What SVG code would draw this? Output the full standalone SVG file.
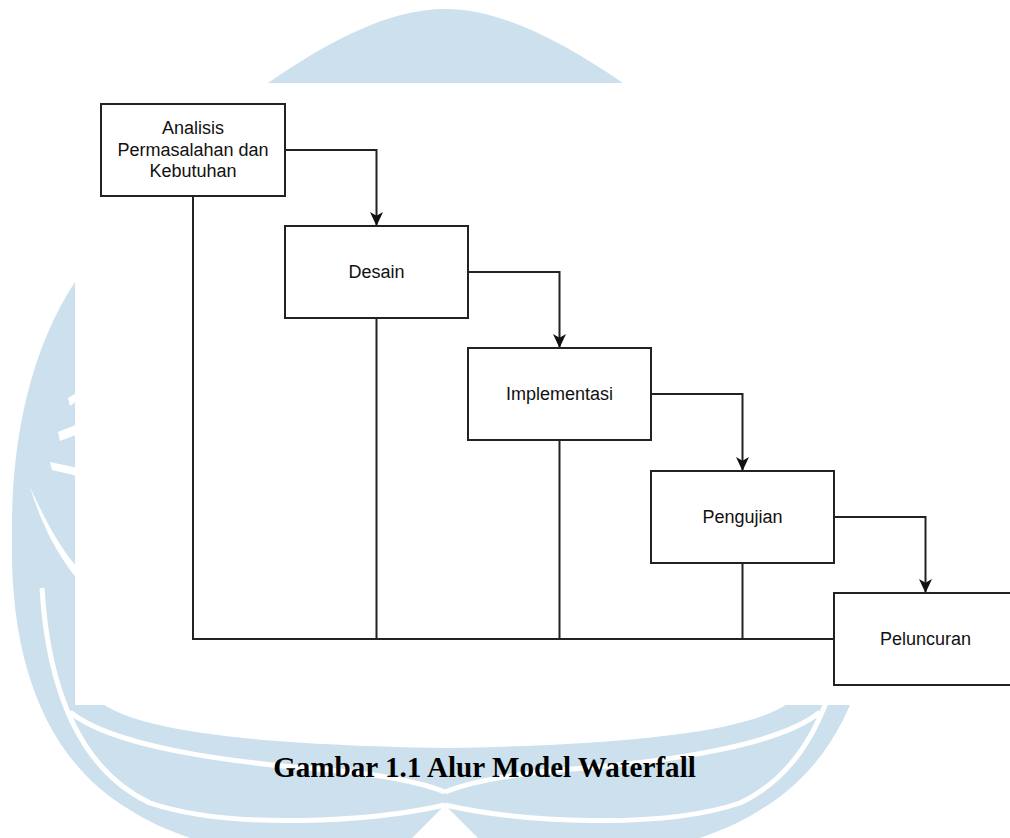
<svg xmlns="http://www.w3.org/2000/svg" width="1010" height="838" viewBox="0 0 1010 838">
  <style>
    .wm { fill: #cce0ed; }
    .wmgap { fill: none; stroke: #ffffff; stroke-width: 5; }
    .box { fill: #ffffff; stroke: #222222; stroke-width: 2; }
    .lbl { font-family: "Liberation Sans", Arial, sans-serif; font-size: 18px; fill: #111111; text-anchor: middle; }
    .conn { fill: none; stroke: #222222; stroke-width: 2; }
    .cap { font-family: "Liberation Serif", "Times New Roman", serif; font-weight: bold; font-size: 29.1px; fill: #000000; }
  </style>
  <defs>
    <marker id="arrow" viewBox="0 0 14 14" refX="14" refY="7" markerWidth="14" markerHeight="14" markerUnits="userSpaceOnUse" orient="auto">
      <path d="M0,0.5 L14,7 L0,13.5 L3.8,7 Z" fill="#111111"/>
    </marker>
    <g id="wing">
      <path class="wm" d="M95,255 C40,320 10,420 12,540 C10,660 45,760 130,810 C155,826 185,838 230,850 L400,850 L445,805 L445,600 L110,600 Z"/>
      <path fill="#ffffff" d="M30,487 C45,520 60,548 78,568 L78,580 C58,556 42,526 30,487 Z"/>
      <path fill="#ffffff" d="M68,398 L78,392 L78,400 L70,406 Z"/>
      <path fill="#ffffff" d="M58,432 L78,424 L78,434 L60,441 Z"/>
      <path fill="#ffffff" d="M50,462 L78,468 L78,476 L52,470 Z"/>
      <path class="wmgap" stroke-width="4.5" d="M42,588 C48,690 80,770 150,803 C230,830 370,822 445,805"/>
      <path class="wmgap" d="M70,712 C110,745 220,762 330,770 C385,775 420,782 445,792"/>
    </g>
  </defs>

  <rect x="0" y="0" width="1010" height="838" fill="#ffffff"/>

  <g id="watermark">
    <path class="wm" d="M268,83 C330,40 390,9 445,9 C500,9 560,40 623,83 L623,120 L268,120 Z"/>
    <use href="#wing"/>
    <use href="#wing" transform="translate(890,0) scale(-1,1)"/>
    <path fill="#ffffff" d="M103,704 C140,730 250,745 445,748 C640,745 750,730 787,704 Z"/>
    <rect x="75" y="83" width="935" height="622" fill="#ffffff"/>
  </g>

  <g id="connectors">
    <path class="conn" d="M285,150 H376.5 V226" marker-end="url(#arrow)"/>
    <path class="conn" d="M468,272 H559.5 V348" marker-end="url(#arrow)"/>
    <path class="conn" d="M651,394 H742.5 V471" marker-end="url(#arrow)"/>
    <path class="conn" d="M834,517 H925.5 V593" marker-end="url(#arrow)"/>
    <path class="conn" d="M193,196 V639 H834"/>
    <path class="conn" d="M376.5,318 V639"/>
    <path class="conn" d="M559.5,440 V639"/>
    <path class="conn" d="M742.5,563 V639"/>
  </g>

  <g id="node-analisis">
    <rect class="box" x="101" y="104" width="184" height="92"/>
    <text class="lbl" x="193" y="134">Analisis</text>
    <text class="lbl" x="193" y="155.7">Permasalahan dan</text>
    <text class="lbl" x="193" y="177.4">Kebutuhan</text>
  </g>
  <g id="node-desain">
    <rect class="box" x="285" y="226" width="183" height="92"/>
    <text class="lbl" x="376.5" y="278">Desain</text>
  </g>
  <g id="node-implementasi">
    <rect class="box" x="468" y="348" width="183" height="92"/>
    <text class="lbl" x="559.5" y="400">Implementasi</text>
  </g>
  <g id="node-pengujian">
    <rect class="box" x="651" y="471" width="183" height="92"/>
    <text class="lbl" x="742.5" y="523">Pengujian</text>
  </g>
  <g id="node-peluncuran">
    <rect class="box" x="834" y="593" width="183" height="92"/>
    <text class="lbl" x="925.5" y="645">Peluncuran</text>
  </g>

  <text class="cap" x="484.5" y="777" text-anchor="middle">Gambar 1.1 Alur Model Waterfall</text>
</svg>
